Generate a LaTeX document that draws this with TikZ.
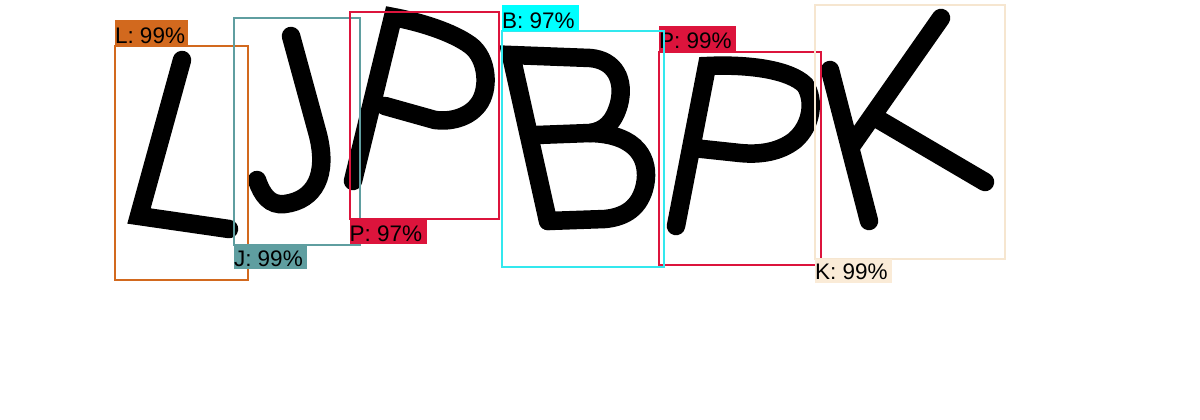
\documentclass[tikz,border=0pt]{standalone}
\usepackage{fontspec}
\setmainfont{Liberation Sans}
\definecolor{cChoc}{RGB}{210,105,30}
\definecolor{cCadet}{RGB}{95,158,160}
\definecolor{cCrim}{RGB}{220,20,60}
\definecolor{cCyan}{RGB}{0,255,255}
\definecolor{cCyanLine}{RGB}{50,232,238}
\definecolor{cAntique}{RGB}{250,235,215}
\definecolor{cAntiqueLine}{RGB}{246,230,208}
\tikzset{
  glyph/.style={draw=black, line width=18.5, line join=miter, miter limit=4, line cap=round},
  detbox/.style={line width=2},
  lbltxt/.style={anchor=base west, inner sep=0, outer sep=0, text=black,
    font=\fontsize{22.5}{24}\selectfont},
}
\begin{document}
\begin{tikzpicture}[x=1pt,y=-1pt]
\useasboundingbox (0,0) rectangle (1200,420);
\fill[white] (0,0) rectangle (1200,420);

% ---- glyphs ----
% L
\draw[glyph] (182,60) -- (139,216) -- (229,229);
% J
\draw[glyph] (291,36) -- (318,135) .. controls (328,175) and (315,200) .. (285,204)
   .. controls (270,206) and (262,195) .. (257,180);
% P (first)
\draw[glyph] (353,181) -- (393,17) .. controls (420,22) and (452,32) .. (470,45)
   .. controls (488,58) and (490,90) .. (478,105)
   .. controls (468,118) and (450,122) .. (435,120) -- (385,106);
% B
\draw[glyph] (548,221) -- (511,55) -- (590,58) .. controls (615,60) and (625,80) .. (619,104)
   .. controls (614,122) and (605,131) .. (590,133) -- (537,135);
\draw[glyph] (590,133) .. controls (638,134) and (650,160) .. (645,185)
   .. controls (640,208) and (625,217) .. (605,219) -- (548,221);
% P (second)
\draw[glyph] (676,226) -- (707,66) .. controls (750,64) and (790,70) .. (805,85)
   .. controls (815,100) and (812,125) .. (795,140)
   .. controls (780,152) and (760,155) .. (740,153) -- (693,148);
% K
\draw[glyph] (830,70) -- (869,221);
\draw[glyph] (941,18) -- (852,145);
\draw[glyph] (876,118) -- (985,182);

% ---- detections ----
% L
\draw[detbox, cChoc] (115,45.7) rectangle (247.7,280);
\fill[cChoc] (115,20) rectangle (188,45.7);
\node[lbltxt] (tL) at (115,43.5) {L: 99\%};
% J
\draw[detbox, cCadet] (234,17.7) rectangle (360,245);
\fill[cCadet] (234,245) rectangle (306.7,268.5);
\node[lbltxt] (tJ) at (234,266.5) {J: 99\%};
% P first
\draw[detbox, cCrim] (349.7,12.3) rectangle (498.5,219);
\fill[cCrim] (349.7,219) rectangle (426.7,243.7);
\node[lbltxt] (tP1) at (349.7,241) {P: 97\%};
% P second
\draw[detbox, cCrim] (659,51.7) rectangle (821,265);
\fill[cCrim] (659,26) rectangle (736,51.7);
\node[lbltxt] (tP2) at (659,49) {P: 99\%};
% B
\draw[detbox, cCyanLine] (502,31.3) rectangle (664,267.3);
\fill[cCyan] (502,5) rectangle (579,31.3);
\node[lbltxt] (tB) at (502,28.5) {B: 97\%};
% K
\draw[detbox, cAntiqueLine] (815,4.7) rectangle (1005,258.7);
\fill[cAntique] (815,258.7) rectangle (891.7,282.7);
\node[lbltxt] (tK) at (815,279.5) {K: 99\%};
\end{tikzpicture}
\end{document}
